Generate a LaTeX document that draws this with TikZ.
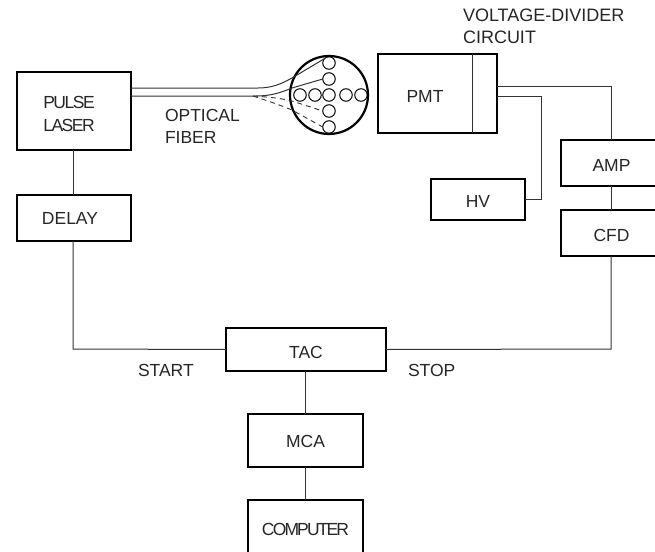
\documentclass[tikz,border=0pt]{standalone}
\usepackage{fontspec}
\setmainfont{Liberation Sans}
\newfontfamily\tightfont[LetterSpace=-8.5]{Liberation Sans}
\newfontfamily\tighterfont[LetterSpace=-10.7]{Liberation Sans}
\newcommand{\lowered}[2][4.8pt]{\raisebox{0pt}[\dimexpr\height+#1\relax][0pt]{#2}}
\tikzset{
  every node/.style={font=\fontsize{17.5}{23}\selectfont,text=black!85,inner sep=0pt,outer sep=0pt},
  block/.style={draw=black,line width=2.2pt,rectangle,fill=none},
  thinwire/.style={draw=black!80,line width=1pt},
  fiberwire/.style={draw=black!80,line width=1pt},
  fiberdash/.style={draw=black!80,line width=0.9pt,dash pattern=on 5pt off 4pt},
  core/.style={draw=black,line width=1pt,circle,minimum size=12.5pt},
  bundle/.style={draw=black,line width=2.2pt,circle,minimum size=78pt},
  caption/.style={anchor=west}
}
\begin{document}
\begin{tikzpicture}[x=1pt,y=-1pt]
\useasboundingbox (0,0) rectangle (655,551);
% blocks
\node[block,minimum width=114pt,minimum height=78pt] (laser) at (74,111) {};
\node[block,minimum width=114pt,minimum height=46pt] (delay) at (74,218) {};
\node[block,minimum width=119pt,minimum height=79pt] (pmt) at (437.5,93.5) {};
\node[block,minimum width=94pt,minimum height=41pt] (hv) at (478,199.5) {\lowered{HV}};
\node[block,minimum width=101pt,minimum height=46pt] (amp) at (611.5,163) {\lowered{AMP}};
\node[block,minimum width=101pt,minimum height=46pt] (cfd) at (611.5,233) {\lowered{CFD}};
\node[block,minimum width=160pt,minimum height=43pt] (tac) at (306,349.5) {\lowered{TAC}};
\node[block,minimum width=115pt,minimum height=53pt] (mca) at (305.5,440.5) {\lowered[1.5pt]{MCA}};
\node[block,minimum width=115pt,minimum height=58pt] (computer) at (305.5,529) {\tighterfont COMPUTER};
% block texts placed off-centre
\node (lasertext) at (69,102) {\tightfont PULSE};
\node (lasertext2) at (69,125) {\tightfont LASER};
\node (delaytext) at (70,218) {DELAY};
\node (pmttext) at (425,96) {PMT};
% divider in the PMT block
\coordinate (divtop) at (472,54);
\coordinate (divbot) at (472,133);
\draw[thinwire] (divtop) -- (divbot);
% captions
\node[caption,font=\fontsize{18}{23}\selectfont] (cap1) at (463,15) {VOLTAGE-DIVIDER};
\node[caption,font=\fontsize{18}{23}\selectfont] (cap2) at (463,37) {CIRCUIT};
\node[caption] (optical) at (165,115) {OPTICAL};
\node[caption] (fiber) at (165,137) {FIBER};
\node[caption] (start) at (138,370) {START};
\node[caption] (stop) at (408,370) {STOP};
% bundle
\node[bundle] (bundle) at (329,95) {};
\node[core] (h1) at (300,95) {};
\node[core] (h2) at (315,95) {};
\node[core] (c) at (329,95) {};
\node[core] (h3) at (346,95) {};
\node[core] (h4) at (361,95) {};
\node[core] (v1) at (329,63) {};
\node[core] (v2) at (329,79) {};
\node[core] (v3) at (329,111) {};
\node[core] (v4) at (329,127) {};
% fibres
\coordinate (fa) at (laser.east |- 0,88);
\coordinate (fb) at (laser.east |- 0,96);
\coordinate (fd) at (253,96);
\draw[fiberwire] (fa) -- (258,88) .. controls (272,88) and (281,84) .. (292,78) -- (v1.north west);
\draw[fiberwire] (fb) -- (256,96) .. controls (270,96) and (280,93) .. (292,88) -- (v2.west);
\draw[fiberdash] (fd) .. controls (268,97) and (280,98) .. (292,101) -- (v3.west);
\draw[fiberdash] (fd) .. controls (268,101) and (280,105) .. (292,110) -- (v4.west);
% wires
\coordinate (outa) at (pmt.east |- 0,86);
\coordinate (outb) at (pmt.east |- 0,96);
\coordinate (ampin) at (611,86);
\coordinate (hvturn) at (541,96);
\coordinate (leftrun) at (73,349);
\coordinate (rightrun) at (611,349);
\draw[thinwire] (laser.south -| leftrun) -- (delay.north -| leftrun);
\draw[thinwire] (outa) -- (ampin) -- (ampin |- amp.north);
\draw[thinwire] (outb) -- (hvturn) |- (hv.east);
\draw[thinwire] (amp.south -| ampin) -- (cfd.north -| ampin);
\draw[thinwire] (delay.south -| leftrun) -- (leftrun) -- (tac.west);
\draw[thinwire] (cfd.south -| rightrun) -- (rightrun) -- (tac.east);
\draw[thinwire] (tac.south -| mca.north) -- (mca.north);
\draw[thinwire] (mca.south) -- (computer.north);
\end{tikzpicture}
\end{document}
